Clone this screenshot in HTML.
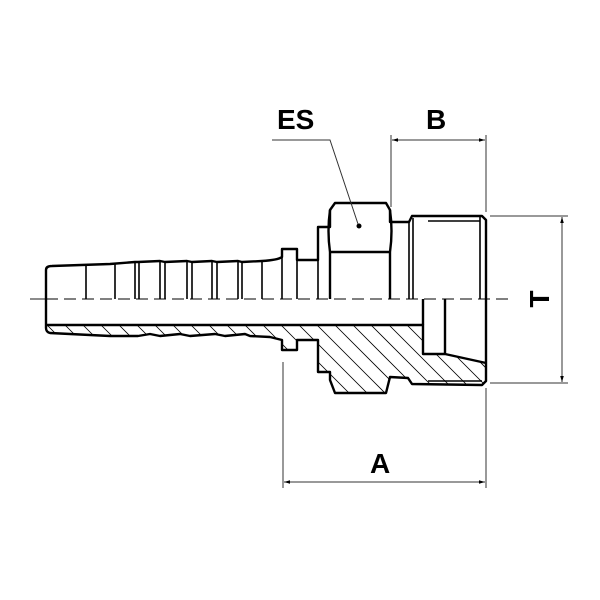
<!DOCTYPE html>
<html><head><meta charset="utf-8"><style>html,body{margin:0;padding:0;background:#fff}svg{display:block}</style></head>
<body>
<svg width="600" height="600" viewBox="0 0 600 600" xmlns="http://www.w3.org/2000/svg">
<defs>
<clipPath id="sec"><path d="M46,325 L423,325 L423,354 L445,354 L486,363 L486,381 L482,385 L412,384 L408,378 L390,377 L386,393 L335,393 L330,380 L330,372 L318,372 L318,340 L297,340 L297,350 L282,350 L282,340 L270,337 L250,336 L245,334 L225,336 L215,334 L190,336 L180,334 L160,336 L150,334 L138,336 L110,336 L50,333 L46,330 Z"/></clipPath>
<marker id="ar" viewBox="0 0 10 10" refX="10" refY="5" markerWidth="16" markerHeight="6" orient="auto-start-reverse" markerUnits="userSpaceOnUse"><path d="M0,2 L10,5 L0,8 Z" fill="#000"/></marker>
</defs>
<g clip-path="url(#sec)" stroke="#000" stroke-width="0.8">
<path d="M40,300 l120,120 M58,300 l120,120 M76,300 l120,120 M94,300 l120,120 M112,300 l120,120 M130,300 l120,120 M148,300 l120,120 M166,300 l120,120 M184,300 l120,120 M202,300 l120,120 M220,300 l120,120 M238,300 l120,120 M256,300 l120,120 M274,300 l120,120 M292,300 l120,120 M310,300 l120,120 M328,300 l120,120 M346,300 l120,120 M364,300 l120,120 M382,300 l120,120 M400,300 l120,120 M418,300 l120,120 M436,300 l120,120 M454,300 l120,120 M472,300 l120,120 M22,300 l120,120 M4,300 l120,120" fill="none"/>
</g>
<g fill="none" stroke="#000" stroke-width="2.4" stroke-linejoin="round">
<path d="M46,299 L46,270 Q46,266 52,266 L110,264 L135,262 L138,262 L160,261 L165,262 L187,261 L192,262 L212,261 L217,262 L238,261 L242,262 L262,261 Q278,260 282,257 L282,249 L297,249 L297,260 L318,260 L318,227 L330,227 L330,210 L335,203 L386,203 L390,210 L390,222 L409,222 L412,216 L482,216 L486,220 L486,381 L482,385 L412,384 L408,378 L390,377 L386,393 L335,393 L330,380 L330,372 L318,372 L318,340 L297,340 L297,350 L282,350 L282,340 L270,337 L250,336 L245,334 L225,336 L215,334 L190,336 L180,334 L160,336 L150,334 L138,336 L110,336 L50,333 Q46,332 46,328 Z"/>
<path d="M46,325 L423,325 L423,354 L445,354 L486,363"/>
<path d="M423,299 L423,325 M445,299 L445,354"/>
<path d="M330,252 L390,252 M330,210 Q327,231 330,252 M390,210 Q393,231 390,252 M330,252 L330,299 M390,252 L390,299"/>
</g>
<g stroke="#000" stroke-width="1.6" fill="none">
<path d="M86,266 V299 M115,264 V299 M135,262 V299 M139,262 V299 M160,261 V299 M165,262 V299 M187,261 V299 M192,262 V299 M212,261 V299 M217,262 V299 M238,261 V299 M242,262 V299 M262,261 V299 M282,257 V299 M297,260 V299 M318,260 V299 M409,222 V299 M413,218 V299 M480,217 V299 M428,221 H480"/>
<path d="M428,381 H482"/>
</g>
<circle cx="359" cy="226" r="2.5" fill="#000"/>
<line x1="30" y1="299" x2="46" y2="299" stroke="#000" stroke-width="0.9"/>
<line x1="46" y1="299" x2="510" y2="299" stroke="#000" stroke-width="0.9" stroke-dasharray="12,6"/>
<g stroke="#333" stroke-width="1" fill="none">
<path d="M272,140 H330 L358,224"/>
<path d="M391,135 V207 M486,135 V212"/>
<line x1="392" y1="140" x2="485" y2="140" marker-start="url(#ar)" marker-end="url(#ar)"/>
<path d="M490,216 H568 M490,383 H568"/>
<line x1="562" y1="217" x2="562" y2="382" marker-start="url(#ar)" marker-end="url(#ar)"/>
<path d="M283,362 V488 M486,388 V488"/>
<line x1="284" y1="482" x2="485" y2="482" marker-start="url(#ar)" marker-end="url(#ar)"/>
</g>
<g font-family="Liberation Sans, sans-serif" font-weight="bold" font-size="28" fill="#000">
<text x="277" y="129">ES</text>
<text x="426" y="129">B</text>
<text x="370" y="473">A</text>
<text transform="translate(549,299) rotate(-90)" text-anchor="middle">T</text>
</g>
</svg>
</body></html>
